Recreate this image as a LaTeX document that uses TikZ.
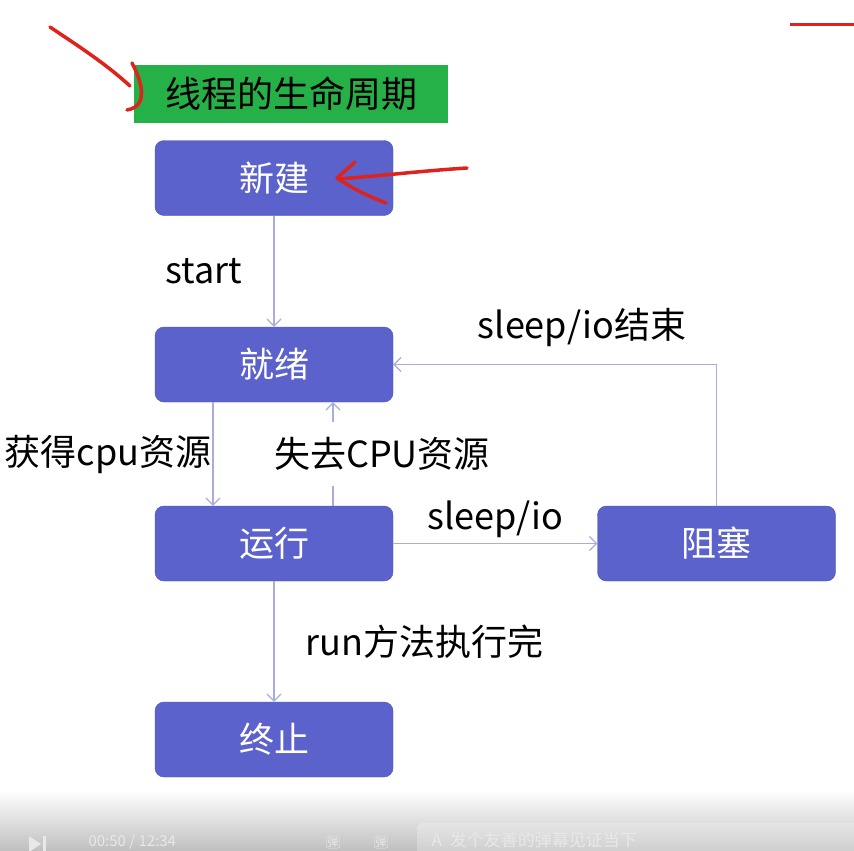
\documentclass[tikz,border=0pt]{standalone}
\usepackage{fontspec}
\setmainfont{Noto Sans CJK SC}
\usetikzlibrary{positioning,arrows.meta}
\definecolor{statefill}{RGB}{91,98,204}
\definecolor{titlegreen}{RGB}{38,176,72}
\definecolor{edgeline}{RGB}{168,172,224}
\definecolor{penred}{RGB}{222,34,28}
\definecolor{barfaint}{RGB}{232,232,232}

\begin{document}
\begin{tikzpicture}[x=1pt,y=-1pt,
    state/.style={rounded corners=9pt,fill=statefill,draw=statefill!85!black,
      minimum width=238pt,minimum height=75pt,inner sep=0pt,text=white,
      font=\fontsize{35}{40}\selectfont},
    trans/.style={edgeline,line width=1.2pt,-{Straight Barb[length=7pt,width=14pt]}},
    lbl/.style={text=black,font=\fontsize{36}{40}\selectfont,inner sep=1pt},
    pen/.style={penred,line width=3.5pt,line cap=round,line join=round}]
  \useasboundingbox (0,0) rectangle (854,851);
  \fill[white] (0,0) rectangle (854,851);

  % title and states
  \node[fill=titlegreen,minimum width=314pt,minimum height=58pt,inner sep=0pt,
    font=\fontsize{36}{40}\selectfont] (title) at (291,94) {线程的生命周期};
  \node[state] (new) at (274,178) {新建};
  \node[state] (ready) at (274,364.5) {就绪};
  \node[state] (run) at (274,543.5) {运行};
  \node[state] (block) at (716.5,543.5) {阻塞};
  \node[state] (dead) at (274,739.5) {终止};

  % transitions
  \draw[trans] (new) -- node[lbl,left=30pt] {start} (ready);
  \draw[trans] ([xshift=-61pt]ready.south) -- node[lbl,left=0pt] {获得cpu资源} ([xshift=-61pt]run.north);
  \draw[trans] ([xshift=59pt]run.north) -- ([xshift=59pt]ready.south)
    node[midway,lbl,fill=white,inner ysep=15pt,xshift=49pt] {失去CPU资源};
  \draw[trans] (run) -- node[lbl,above=4pt] {sleep/io} (block);
  \draw[trans] (block.north) |- node[pos=0.708,lbl,above=16pt] {sleep/io结束} (ready.east);
  \draw[trans] (run) -- node[lbl,right=30pt] {run方法执行完} (dead);

  % red pen marks
  \draw[pen] (50,27) .. controls (72,42) and (104,62) .. (130,86);
  \draw[pen] (132,63) .. controls (141,80) and (150,106) .. (127,110);
  \draw[pen] (467,168) .. controls (420,171) and (380,176) .. (338,179);
  \draw[pen] (355,162) -- (337,178) .. controls (355,190) and (370,197) .. (386,203);
  \draw[penred,line width=3pt] (790,25) -- (854,25);

  % player bar
  \shade[top color=white,bottom color=gray!50] (0,790) rectangle (854,851);
  \fill[white,opacity=0.25,rounded corners=6pt] (417,823) rectangle (870,860);
  \fill[barfaint] (29,836) -- (41,844) -- (29,852) -- cycle;
  \fill[barfaint] (43,836) rectangle (46,852);
  \node[text=barfaint,font=\fontsize{15}{18}\selectfont,anchor=west] (clock) at (85,842) {00:50 / 12:34};
  \node[draw=barfaint,text=barfaint,rounded corners=2pt,inner sep=1pt,font=\fontsize{11}{12}\selectfont] (dmk) at (333,842) {弹};
  \node[draw=barfaint,text=barfaint,rounded corners=2pt,inner sep=1pt,font=\fontsize{11}{12}\selectfont] (dmkset) at (381,842) {弹};
  \node[text=barfaint,font=\fontsize{17}{20}\selectfont,anchor=west] (hint) at (428,840) {A\hspace{8pt}发个友善的弹幕见证当下};
\end{tikzpicture}
\end{document}
